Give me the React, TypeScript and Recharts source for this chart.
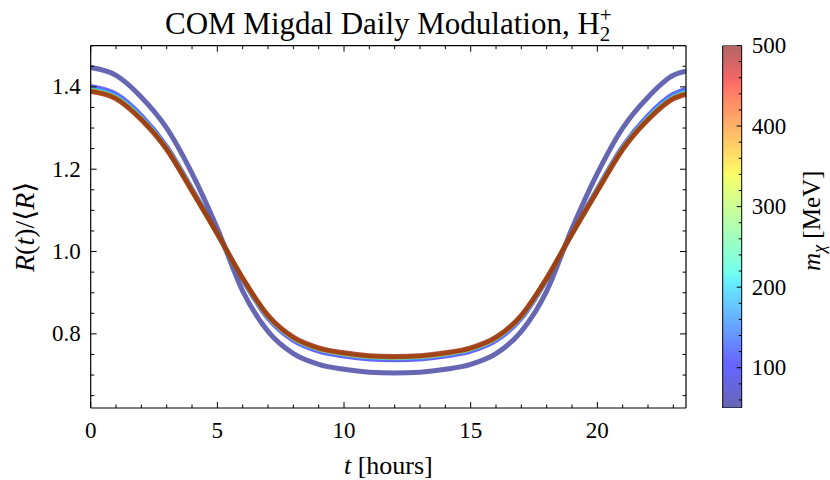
import React from "react";
import { LineChart, Line, XAxis, YAxis, BarChart, Bar } from "recharts";

const FONT = '"Liberation Serif", "DejaVu Serif", serif';

// hours of the day
const hours = [0, 1, 2, 3, 4, 5, 6, 7, 8, 9, 10, 11, 12, 13, 14, 15, 16, 17, 18, 19, 20, 21, 22, 23, 23.5];

// dark matter masses [MeV]
const masses = [50, 100, 200, 300, 400, 500];

// R(t)/<R> per mass
const m50 = [1.447, 1.428, 1.375, 1.3, 1.19, 1.056, 0.904, 0.806, 0.752, 0.726, 0.714, 0.707, 0.705, 0.707, 0.714, 0.726, 0.752, 0.806, 0.904, 1.056, 1.19, 1.3, 1.375, 1.428, 1.438];
const m100 = [1.401, 1.382, 1.33, 1.255, 1.152, 1.044, 0.932, 0.838, 0.784, 0.758, 0.746, 0.739, 0.737, 0.739, 0.746, 0.758, 0.784, 0.838, 0.932, 1.044, 1.152, 1.255, 1.33, 1.382, 1.394];
const m200 = [1.395, 1.376, 1.325, 1.251, 1.149, 1.043, 0.934, 0.842, 0.789, 0.763, 0.751, 0.744, 0.742, 0.744, 0.751, 0.763, 0.789, 0.842, 0.934, 1.043, 1.149, 1.251, 1.325, 1.376, 1.388];
const m300 = [1.392, 1.373, 1.322, 1.249, 1.148, 1.043, 0.934, 0.844, 0.79, 0.764, 0.752, 0.745, 0.743, 0.745, 0.752, 0.764, 0.79, 0.844, 0.934, 1.043, 1.148, 1.249, 1.322, 1.373, 1.385];
const m400 = [1.39, 1.372, 1.321, 1.249, 1.147, 1.043, 0.935, 0.844, 0.791, 0.765, 0.753, 0.746, 0.744, 0.746, 0.753, 0.765, 0.791, 0.844, 0.935, 1.043, 1.147, 1.249, 1.321, 1.372, 1.383];
const m500 = [1.389, 1.371, 1.32, 1.248, 1.147, 1.043, 0.935, 0.845, 0.792, 0.766, 0.754, 0.747, 0.745, 0.747, 0.754, 0.766, 0.792, 0.845, 0.935, 1.043, 1.147, 1.248, 1.32, 1.371, 1.382];

const seriesValues = [m50, m100, m200, m300, m400, m500];

// axes
const xDomain = [0, 23.5];
const xTicks = [0, 1, 2, 3, 4, 5, 6, 7, 8, 9, 10, 11, 12, 13, 14, 15, 16, 17, 18, 19, 20, 21, 22, 23];
const xLabelTicks = [0, 5, 10, 15, 20];
const yDomain = [0.62, 1.5];
const yTicks = [0.65, 0.7, 0.75, 0.8, 0.85, 0.9, 0.95, 1.0, 1.05, 1.1, 1.15, 1.2, 1.25, 1.3, 1.35, 1.4, 1.45, 1.5];
const yLabelTicks = [0.8, 1.0, 1.2, 1.4];

// colorbar
const cbRange = [50, 500];
const cbTicks = [60, 80, 100, 120, 140, 160, 180, 200, 220, 240, 260, 280, 300, 320, 340, 360, 380, 400, 420, 440, 460, 480, 500];
const cbLabelTicks = [100, 200, 300, 400, 500];

const rows = hours.map((t, i) => {
  const row: Record<string, number> = { t };
  masses.forEach((m, k) => {
    row["m" + m] = seriesValues[k][i];
  });
  return row;
});

const cbData = [{ name: "mchi", range: cbRange }];

// matplotlib jet
const JET: Record<string, number[][]> = {
  r: [[0, 0], [0.35, 0], [0.66, 1], [0.89, 1], [1, 0.5]],
  g: [[0, 0], [0.125, 0], [0.375, 1], [0.64, 1], [0.91, 0], [1, 0]],
  b: [[0, 0.5], [0.11, 1], [0.34, 1], [0.65, 0], [1, 0]],
};
function seg(pts: number[][], v: number) {
  for (let i = 1; i < pts.length; i++) {
    if (v <= pts[i][0]) {
      const [x0, y0] = pts[i - 1];
      const [x1, y1] = pts[i];
      return y0 + ((v - x0) / (x1 - x0)) * (y1 - y0);
    }
  }
  return pts[pts.length - 1][1];
}
function jet(v: number) {
  const c = (k: string) => Math.round(255 * seg(JET[k], v));
  return `rgb(${c("r")},${c("g")},${c("b")})`;
}
const massColor = (m: number) => jet((m - cbRange[0]) / (cbRange[1] - cbRange[0]));
const gradStops = [0, 0.11, 0.125, 0.34, 0.35, 0.375, 0.64, 0.65, 0.66, 0.89, 0.91, 1];

const near = (list: number[], v: number) => list.some((l) => Math.abs(l - v) < 1e-9);

function BottomTick({ x, y, payload }: any) {
  const major = near(xLabelTicks, payload.value);
  return (
    <g>
      <line x1={x} y1={y} x2={x} y2={y - (major ? 6 : 3.5)} stroke="#000" strokeWidth={1} />
      {major && (
        <text x={x} y={y + 30} textAnchor="middle" fontSize={23} fontFamily={FONT} fill="#000">
          {payload.value}
        </text>
      )}
    </g>
  );
}

function TopTick({ x, y, payload }: any) {
  const major = near(xLabelTicks, payload.value);
  return <line x1={x} y1={y} x2={x} y2={y + (major ? 6 : 3.5)} stroke="#000" strokeWidth={1} />;
}

function LeftTick({ x, y, payload }: any) {
  const major = near(yLabelTicks, payload.value);
  return (
    <g>
      <line x1={x} y1={y} x2={x + (major ? 6 : 3.5)} y2={y} stroke="#000" strokeWidth={1} />
      {major && (
        <text x={x - 10} y={y + 7.5} textAnchor="end" fontSize={23} fontFamily={FONT} fill="#000">
          {payload.value.toFixed(1)}
        </text>
      )}
    </g>
  );
}

function RightTick({ x, y, payload }: any) {
  const major = near(yLabelTicks, payload.value);
  return <line x1={x} y1={y} x2={x - (major ? 6 : 3.5)} y2={y} stroke="#000" strokeWidth={1} />;
}

function CbTick({ x, y, payload }: any) {
  const major = near(cbLabelTicks, payload.value);
  return (
    <g>
      <line x1={x} y1={y} x2={x - (major ? 5 : 3)} y2={y} stroke="#000" strokeWidth={1} />
      {major && (
        <text x={x + 10} y={y + 7.5} textAnchor="start" fontSize={23} fontFamily={FONT} fill="#000">
          {payload.value}
        </text>
      )}
    </g>
  );
}

function TitleLabel({ viewBox }: any) {
  const vb = viewBox || { x: 90.7, y: 35.7, width: 595.3, height: 10 };
  return (
    <text x={vb.x + vb.width / 2} y={33.5} textAnchor="middle" fontSize={31} fontFamily={FONT} fill="#000">
      COM Migdal Daily Modulation, H
      <tspan fontSize={21} dy={7}>2</tspan>
      <tspan fontSize={21} dx={-10.5} dy={-19}>+</tspan>
    </text>
  );
}

function XTitle({ viewBox }: any) {
  const vb = viewBox || { x: 90.7, y: 408, width: 595.3, height: 40 };
  return (
    <text x={vb.x + vb.width / 2} y={474} textAnchor="middle" fontSize={26} fontFamily={FONT} fill="#000">
      <tspan fontStyle="italic">t</tspan> [hours]
    </text>
  );
}

function YTitle({ viewBox }: any) {
  const vb = viewBox || { x: 30.7, y: 45.7, width: 60, height: 362.3 };
  const cy = vb.y + vb.height / 2;
  return (
    <text transform={`translate(34, ${cy}) rotate(-90)`} textAnchor="middle" fontSize={28} fontFamily={FONT} fill="#000">
      <tspan fontStyle="italic">R</tspan>(<tspan fontStyle="italic">t</tspan>)/⟨<tspan fontStyle="italic">R</tspan>⟩
    </text>
  );
}

function CbTitle({ viewBox }: any) {
  const vb = viewBox || { x: 41.7, y: 45.5, width: 60, height: 362.5 };
  const cy = vb.y + vb.height / 2 - 6;
  return (
    <text transform={`translate(120, ${cy}) rotate(-90)`} textAnchor="middle" fontSize={25} fontFamily={FONT} fill="#000">
      <tspan fontStyle="italic">m</tspan>
      <tspan fontStyle="italic" fontSize={18} dy={5}>χ</tspan>
      <tspan dy={-5}> [MeV]</tspan>
    </text>
  );
}

const axisLine = { stroke: "#000", strokeWidth: 1.2 };

export default function App() {
  return (
    <div style={{ position: "absolute", left: 0, top: 0, width: 830, height: 480, background: "#fff" }}>
      <div style={{ position: "absolute", left: 0, top: 0 }}>
        <LineChart width={830} height={480} data={rows} margin={{ top: 35.7, right: 134, bottom: 32, left: 30.7 }}>
          <XAxis
            dataKey="t"
            type="number"
            domain={xDomain}
            allowDataOverflow
            ticks={xTicks}
            interval={0}
            tickSize={0}
            tickMargin={0}
            tickLine={false}
            axisLine={axisLine}
            height={40}
            tick={(p: any) => <BottomTick {...p} />}
            label={<XTitle />}
          />
          <XAxis
            xAxisId="top"
            orientation="top"
            dataKey="t"
            type="number"
            domain={xDomain}
            allowDataOverflow
            ticks={xTicks}
            interval={0}
            tickSize={0}
            tickMargin={0}
            tickLine={false}
            axisLine={axisLine}
            height={10}
            tick={(p: any) => <TopTick {...p} />}
            label={<TitleLabel />}
          />
          <YAxis
            type="number"
            domain={yDomain}
            allowDataOverflow
            ticks={yTicks}
            interval={0}
            tickSize={0}
            tickMargin={0}
            tickLine={false}
            axisLine={axisLine}
            width={60}
            tick={(p: any) => <LeftTick {...p} />}
            label={<YTitle />}
          />
          <YAxis
            yAxisId="right"
            orientation="right"
            type="number"
            domain={yDomain}
            allowDataOverflow
            ticks={yTicks}
            interval={0}
            tickSize={0}
            tickMargin={0}
            tickLine={false}
            axisLine={axisLine}
            width={10}
            tick={(p: any) => <RightTick {...p} />}
          />
          {masses.map((m) => (
            <Line
              key={m}
              type="monotone"
              dataKey={"m" + m}
              stroke={massColor(m)}
              strokeOpacity={0.6}
              strokeWidth={5}
              dot={false}
              activeDot={false}
              isAnimationActive={false}
            />
          ))}
        </LineChart>
      </div>
      <div style={{ position: "absolute", left: 700, top: 0 }}>
        <BarChart
          width={130}
          height={480}
          data={cbData}
          margin={{ top: 45.5, right: 28.3, bottom: 72, left: 22.7 }}
          barCategoryGap={0}
          barGap={0}
        >
          <defs>
            <linearGradient id="jetbar" x1="0" y1="1" x2="0" y2="0">
              {gradStops.map((s) => (
                <stop key={s} offset={s} stopColor={jet(s)} />
              ))}
            </linearGradient>
          </defs>
          <XAxis dataKey="name" type="category" hide />
          <YAxis
            orientation="right"
            type="number"
            domain={cbRange}
            allowDataOverflow
            ticks={cbTicks}
            interval={0}
            tickSize={0}
            tickMargin={0}
            tickLine={false}
            axisLine={false}
            width={60}
            tick={(p: any) => <CbTick {...p} />}
            label={<CbTitle />}
          />
          <Bar
            dataKey="range"
            fill="url(#jetbar)"
            fillOpacity={0.6}
            stroke="#000"
            strokeWidth={1}
            isAnimationActive={false}
          />
        </BarChart>
      </div>
    </div>
  );
}
